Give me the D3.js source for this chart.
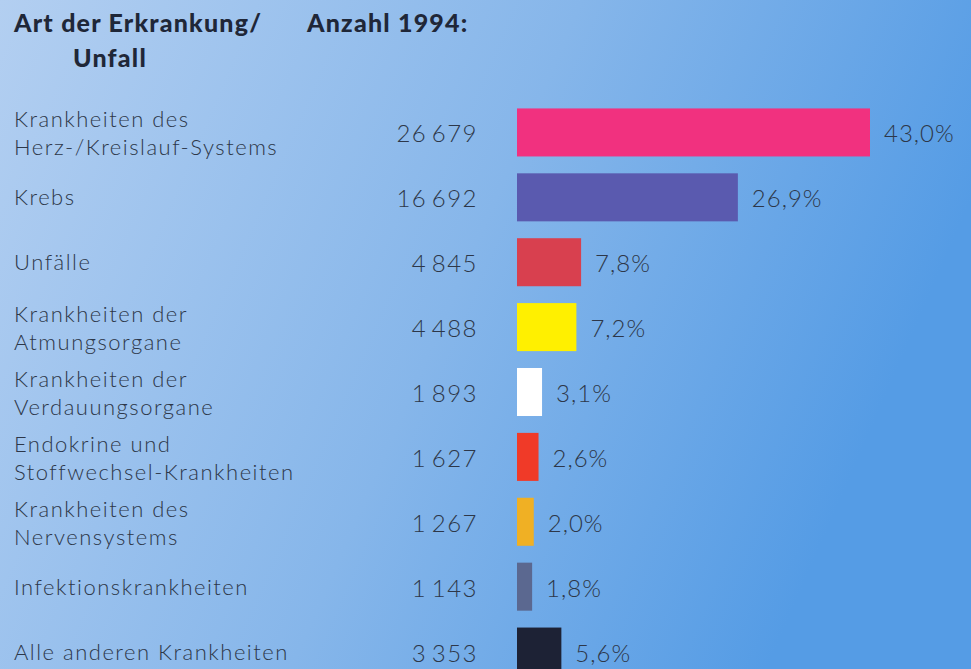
<!DOCTYPE html>
<html>
<head>
<meta charset="utf-8">
<script src="https://cdn.jsdelivr.net/npm/d3@7"></script>
<style>
  body { margin: 0; }
  svg { display: block; }
</style>
</head>
<body>
<svg width="971" height="669"></svg>
<script>
(function (d3) {
    'use strict';

    // data
    const categories = [
        "Krankheiten des|Herz-/Kreislauf-Systems",
        "Krebs",
        "Unfälle",
        "Krankheiten der|Atmungsorgane",
        "Krankheiten der|Verdauungsorgane",
        "Endokrine und|Stoffwechsel-Krankheiten",
        "Krankheiten des|Nervensystems",
        "Infektionskrankheiten",
        "Alle anderen Krankheiten"
    ];
    const counts = [26679, 16692, 4845, 4488, 1893, 1627, 1267, 1143, 3353];
    const shares = [43.0, 26.9, 7.8, 7.2, 3.1, 2.6, 2.0, 1.8, 5.6];
    const barColors = ['#f1317f', '#5a5aaf', '#d8404f', '#fff000', '#ffffff',
                       '#f03a28', '#f0b024', '#5b6890', '#1d2235'];

    const svg = d3.select('svg');
    const width = +svg.attr('width');
    const height = +svg.attr('height');

    const font = 'Lato, "Open Sans", sans-serif';
    const textColor = '#2d3749';

    // background
    const grad = svg.append('defs').append('linearGradient')
        .attr('id', 'bg')
        .attr('x1', '0%').attr('y1', '0%')
        .attr('x2', '100%').attr('y2', '30%');
    grad.append('stop').attr('offset', '0%').attr('stop-color', '#b3cff1');
    grad.append('stop').attr('offset', '55%').attr('stop-color', '#86b6ea');
    grad.append('stop').attr('offset', '100%').attr('stop-color', '#559ce5');
    svg.append('rect')
        .attr('width', width).attr('height', height)
        .attr('fill', 'url(#bg)');

    const rows = categories.map((c, i) => ({
        label: c.split('|'),
        count: counts[i],
        share: shares[i],
        color: barColors[i]
    }));

    const locale = d3.formatLocale({
        decimal: ',', thousands: '\u2009', grouping: [3], currency: ['', ' €']
    });
    const fmtCount = locale.format(',d');
    const fmtShare = d => locale.format('.1f')(d) + '%';

    const barLeft = 517;
    const xScale = d3.scaleLinear()
        .domain([0, d3.max(counts)])
        .range([0, 353]);

    const yScale = d3.scaleBand()
        .domain(d3.range(rows.length))
        .range([100, 684])
        .paddingInner(0.26)
        .paddingOuter(0.13);

    // header
    const head = svg.append('g')
        .attr('font-family', font)
        .attr('font-weight', 900)
        .attr('font-size', 25)
        .attr('letter-spacing', 1.2)
        .attr('fill', '#1f2738');
    head.append('text').attr('x', 14).attr('y', 32).text('Art der Erkrankung/');
    head.append('text').attr('x', 110).attr('y', 67)
        .attr('text-anchor', 'middle').text('Unfall');
    head.append('text').attr('x', 307).attr('y', 32).text('Anzahl 1994:');

    const g = svg.append('g')
        .attr('font-family', font)
        .attr('fill', textColor);

    const row = g.selectAll('g.row').data(rows)
        .enter().append('g')
        .attr('class', 'row')
        .attr('transform', (d, i) => `translate(0,${yScale(i) + yScale.bandwidth() / 2})`);

    // category labels
    row.append('text')
        .attr('x', 14)
        .attr('font-size', 22)
        .attr('font-weight', 300)
        .attr('letter-spacing', 1.5)
        .each(function (d) {
            const t = d3.select(this);
            const offs = d.label.length > 1 ? [-5, 23] : [8];
            d.label.forEach((line, k) => {
                t.append('tspan').attr('x', 14).attr('y', offs[k]).text(line);
            });
        });

    // counts
    row.append('text')
        .attr('x', 478)
        .attr('y', 10)
        .attr('text-anchor', 'end')
        .attr('font-size', 24)
        .attr('font-weight', 300)
        .attr('letter-spacing', 1.5)
        .text(d => fmtCount(d.count));

    // bars
    row.append('rect')
        .attr('x', barLeft)
        .attr('y', -yScale.bandwidth() / 2)
        .attr('width', d => xScale(d.count))
        .attr('height', yScale.bandwidth())
        .attr('fill', d => d.color);

    // shares
    row.append('text')
        .attr('x', d => barLeft + xScale(d.count) + 14)
        .attr('y', 10)
        .attr('font-size', 24)
        .attr('font-weight', 300)
        .attr('letter-spacing', 1)
        .text(d => fmtShare(d.share));
}(d3));
</script>
</body>
</html>
